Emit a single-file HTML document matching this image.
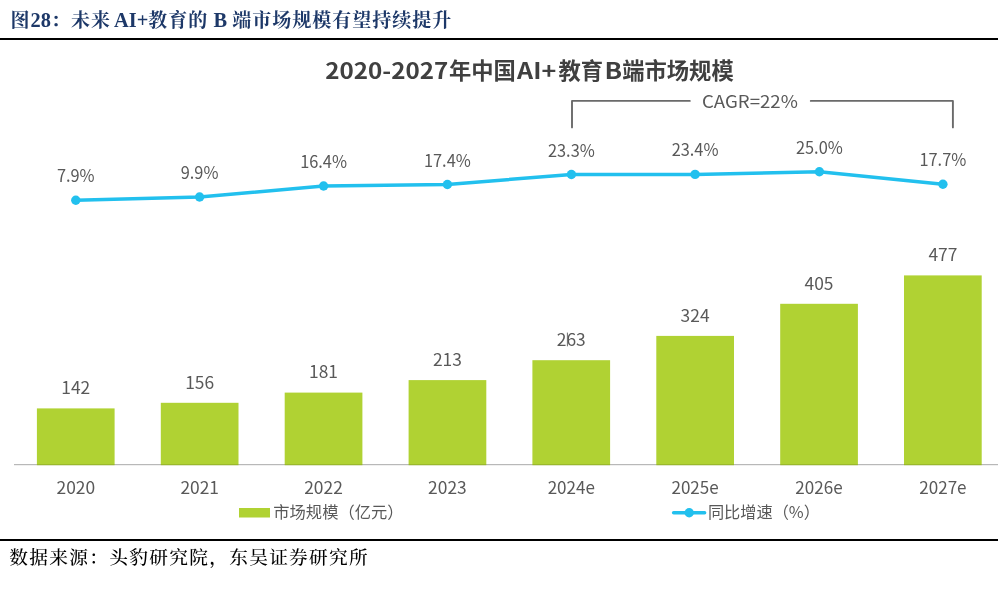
<!DOCTYPE html>
<html lang="zh-CN">
<head>
<meta charset="utf-8">
<title>图28：未来 AI+教育的 B 端市场规模有望持续提升</title>
<style>
html,body{margin:0;padding:0;background:#fff;}
body{width:998px;height:596px;position:relative;overflow:hidden;}
.cap{position:absolute;left:10.5px;top:4.5px;margin:0;font-family:"Liberation Serif","Noto Serif CJK SC",serif;font-weight:bold;font-size:19px;letter-spacing:1px;line-height:30px;color:#1d3868;white-space:pre;}
.cap b{font-size:20.4px;letter-spacing:0;font-weight:bold;}
.src{position:absolute;left:9.3px;top:543.2px;margin:0;font-family:"Liberation Serif","Noto Serif CJK SC",serif;font-weight:500;font-size:18.7px;letter-spacing:1.3px;line-height:30px;color:#000;white-space:pre;}
.rule{position:absolute;left:0;width:998px;height:2.2px;background:#000;}
</style>
</head>
<body>
<div class="cap">图<b>28</b>：未来<b style="word-spacing:-2px"> AI+</b>教育的<b> B </b>端市场规模有望持续提升</div>
<div class="rule" style="top:37.8px"></div>
<svg width="998" height="596" viewBox="0 0 998 596" style="position:absolute;left:0;top:0">
<rect x="14" y="464.0" width="990" height="1.2" fill="#d2d2d2"/>
<rect x="36.9" y="408.4" width="77.7" height="56.8" fill="#b0d233"/>
<rect x="160.8" y="402.8" width="77.7" height="62.4" fill="#b0d233"/>
<rect x="284.7" y="392.6" width="77.7" height="72.6" fill="#b0d233"/>
<rect x="408.6" y="380.1" width="77.7" height="85.1" fill="#b0d233"/>
<rect x="532.4" y="360.2" width="77.7" height="105.0" fill="#b0d233"/>
<rect x="656.3" y="335.9" width="77.7" height="129.3" fill="#b0d233"/>
<rect x="780.2" y="303.8" width="77.7" height="161.4" fill="#b0d233"/>
<rect x="904.0" y="275.4" width="77.7" height="189.8" fill="#b0d233"/>
<rect x="14" y="464.0" width="990" height="1.2" fill="#000" fill-opacity="0.12"/>
<polyline points="75.8,200.3 199.6,197.0 323.6,186.0 447.4,184.5 571.4,174.5 695.1,174.4 819.4,171.7 942.9,184.2" fill="none" stroke="#22c0ee" stroke-width="3.5" stroke-linejoin="round" stroke-linecap="round"/>
<circle cx="75.8" cy="200.3" r="4.7" fill="#22c0ee"/>
<circle cx="199.6" cy="197.0" r="4.7" fill="#22c0ee"/>
<circle cx="323.6" cy="186.0" r="4.7" fill="#22c0ee"/>
<circle cx="447.4" cy="184.5" r="4.7" fill="#22c0ee"/>
<circle cx="571.4" cy="174.5" r="4.7" fill="#22c0ee"/>
<circle cx="695.1" cy="174.4" r="4.7" fill="#22c0ee"/>
<circle cx="819.4" cy="171.7" r="4.7" fill="#22c0ee"/>
<circle cx="942.9" cy="184.2" r="4.7" fill="#22c0ee"/>
<path d="M572 127.4V100.9H689.8M810.8 100.9H952.9V127.4" fill="none" stroke="#6a6a6a" stroke-width="1.9" stroke-linejoin="round" stroke-linecap="round"/>
<g font-family="'Noto Sans CJK SC', 'Liberation Sans', sans-serif" fill="#595959" text-anchor="middle" font-size="17.4">
<text x="75.8" y="394.1">142</text>
<text x="199.7" y="388.5">156</text>
<text x="323.5" y="378.3">181</text>
<text x="447.4" y="365.8">213</text>
<text x="571.3" y="345.9">263</text>
<text x="695.1" y="321.6">324</text>
<text x="819.0" y="289.5">405</text>
<text x="942.9" y="261.1">477</text>
<text x="75.8" y="182.3" textLength="37.7" lengthAdjust="spacingAndGlyphs">7.9%</text>
<text x="199.6" y="179.0" textLength="37.7" lengthAdjust="spacingAndGlyphs">9.9%</text>
<text x="323.6" y="168.0" textLength="46.9" lengthAdjust="spacingAndGlyphs">16.4%</text>
<text x="447.4" y="166.5" textLength="46.9" lengthAdjust="spacingAndGlyphs">17.4%</text>
<text x="571.4" y="156.5" textLength="46.9" lengthAdjust="spacingAndGlyphs">23.3%</text>
<text x="695.1" y="156.4" textLength="46.9" lengthAdjust="spacingAndGlyphs">23.4%</text>
<text x="819.4" y="153.7" textLength="46.9" lengthAdjust="spacingAndGlyphs">25.0%</text>
<text x="942.9" y="166.2" textLength="46.9" lengthAdjust="spacingAndGlyphs">17.7%</text>
<text x="75.8" y="494">2020</text>
<text x="199.7" y="494">2021</text>
<text x="323.5" y="494">2022</text>
<text x="447.4" y="494">2023</text>
<text x="571.3" y="494" textLength="47.3" lengthAdjust="spacingAndGlyphs">2024e</text>
<text x="695.1" y="494" textLength="47.3" lengthAdjust="spacingAndGlyphs">2025e</text>
<text x="819.0" y="494" textLength="47.3" lengthAdjust="spacingAndGlyphs">2026e</text>
<text x="942.9" y="494" textLength="47.3" lengthAdjust="spacingAndGlyphs">2027e</text>
<text x="749.9" y="108" textLength="96" lengthAdjust="spacingAndGlyphs">CAGR=22%</text>
</g>
<rect x="566.9" y="332.6" width="1" height="13.7" fill="#6e6e6e"/>
<text y="79.2" font-family="'Noto Sans CJK SC', 'Liberation Sans', sans-serif" font-weight="bold" font-size="22.3" fill="#404040"><tspan x="325.3" textLength="123" lengthAdjust="spacingAndGlyphs">2020-2027</tspan><tspan x="448.9">年中国</tspan><tspan x="517.1" textLength="39.1" lengthAdjust="spacingAndGlyphs">AI+</tspan><tspan x="558.5">教育</tspan><tspan x="604.6" textLength="17.6" lengthAdjust="spacingAndGlyphs">B</tspan><tspan x="622.2">端市场规模</tspan></text>
<rect x="239" y="508" width="31" height="9.5" fill="#b0d233"/>
<text x="273.3" y="518.4" font-family="'Noto Sans CJK SC', 'Liberation Sans', sans-serif" font-size="16.3" fill="#595959">市场规模（亿元）</text>
<line x1="673.6" y1="512.8" x2="704.6" y2="512.8" stroke="#22c0ee" stroke-width="3.5" stroke-linecap="round"/>
<circle cx="689.2" cy="512.8" r="4.7" fill="#22c0ee"/>
<text x="707.9" y="518.4" font-family="'Noto Sans CJK SC', 'Liberation Sans', sans-serif" font-size="16.2" fill="#595959">同比增速（%）</text>
</svg>
<div class="rule" style="top:538.7px"></div>
<div class="src">数据来源：头豹研究院，东吴证券研究所</div>
</body>
</html>
